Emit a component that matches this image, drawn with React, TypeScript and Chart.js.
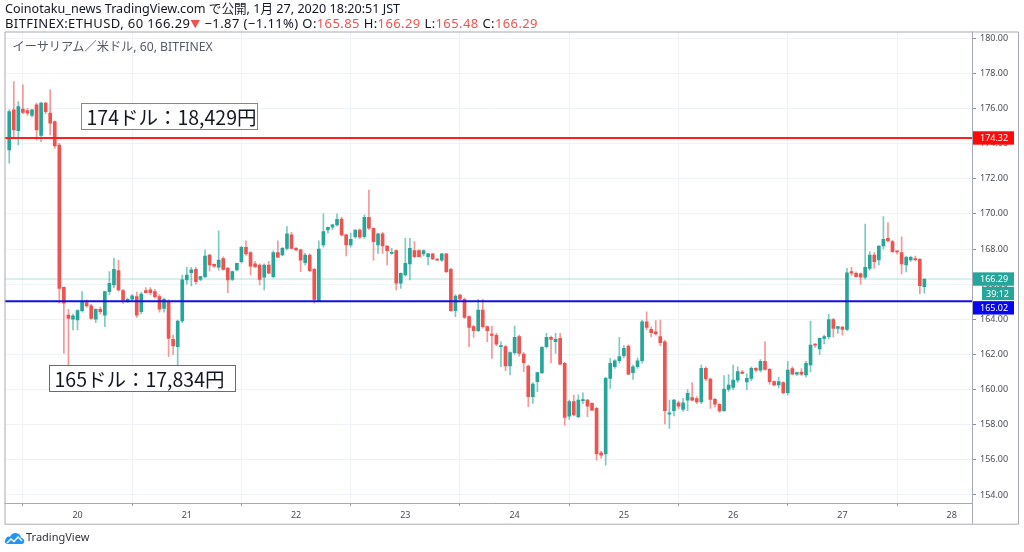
import React, { useEffect, useRef } from "react";
import { Chart, registerables } from "chart.js";

Chart.register(...registerables);

// Hourly candles, hour 0 = 2020-01-20 00:00 JST
const FIRST_HOUR = -15;
const opens = [
  173.64, 175.92, 174.74, 175.97, 175.88, 175.60, 176.20, 174.46, 176.30, 175.73, 175.25, 173.92, 165.82, 164.24, 164.00,
  163.96, 164.49, 164.95, 164.76, 164.00, 164.57, 164.24, 165.57, 165.95, 166.77, 165.63, 165.04, 165.14, 165.29, 164.43, 165.63, 165.67, 165.57, 165.29, 164.62, 165.00, 162.86, 162.44,
  163.90, 166.24, 166.65, 166.84, 166.27, 166.43, 167.66, 167.13, 166.96, 167.45, 166.90, 166.27, 166.81, 167.28, 168.10, 167.79, 167.15, 167.09, 166.39, 167.09, 166.43, 167.79, 167.66, 168.04,
  168.80, 168.04, 167.95, 167.22, 167.66, 166.84, 165.06, 168.23, 169.08, 169.24, 169.37, 169.71, 168.80, 168.23, 168.70, 169.08, 168.70, 169.80, 169.18, 168.23, 168.86, 168.17, 167.75, 167.91,
  166.05, 166.52, 167.15, 167.91, 167.91, 167.72, 167.57, 167.72, 167.43, 167.37, 167.72, 166.84, 164.49, 165.38, 165.14, 164.15, 163.58, 163.35, 164.53, 163.58, 163.16, 163.08, 162.44, 162.44,
  161.34, 162.10, 163.01, 162.02, 161.34, 159.59, 160.45, 160.96, 162.44, 162.97, 162.72, 162.91, 161.49, 158.49, 159.31, 158.45, 159.37, 159.40, 159.21, 158.93, 156.40, 156.33, 160.64, 161.30,
  161.64, 161.93, 162.48, 160.96, 161.30, 161.64, 163.86, 163.43, 163.29, 163.01, 162.72, 158.60, 158.80, 159.25, 158.87, 159.40, 159.55, 159.48, 159.29, 161.21, 160.60, 159.44, 159.16, 158.80,
  160.01, 160.12, 160.54, 161.00, 160.43, 160.64, 161.21, 161.11, 161.60, 161.15, 160.45, 160.26, 160.39, 159.82, 161.19, 160.88, 161.00, 160.83, 161.40, 162.59, 162.31, 162.91, 163.01, 163.99,
  163.48, 163.56, 163.42, 166.71, 166.62, 166.58, 166.39, 166.90, 167.66, 167.38, 168.17, 168.61, 168.42, 167.89, 167.79, 167.09, 167.38, 167.45, 167.41, 165.85,
];
const highs = [
  175.92, 177.53, 176.39, 177.34, 176.00, 175.95, 176.30, 176.35, 176.35, 177.06, 175.30, 174.02, 165.85, 164.57, 164.30,
  164.55, 165.57, 165.10, 164.85, 164.60, 164.70, 165.60, 166.71, 167.47, 167.37, 165.70, 165.20, 165.40, 165.55, 165.55, 165.80, 165.80, 165.70, 165.40, 165.20, 165.10, 163.10, 163.96,
  166.52, 166.96, 166.95, 166.95, 166.45, 167.95, 167.70, 167.15, 169.03, 167.55, 166.95, 166.75, 167.20, 168.15, 168.46, 167.85, 167.30, 167.15, 167.15, 167.30, 167.90, 168.46, 168.10, 169.27,
  168.95, 168.10, 168.00, 167.75, 167.72, 166.90, 168.46, 170.00, 169.25, 169.40, 170.00, 169.80, 168.85, 168.90, 169.10, 169.15, 169.94, 171.36, 169.20, 168.90, 168.95, 168.20, 168.04, 167.95,
  166.65, 168.61, 168.61, 168.42, 167.95, 167.95, 167.75, 167.75, 167.45, 167.75, 167.75, 166.90, 165.40, 165.42, 165.20, 164.20, 163.65, 165.14, 165.14, 163.62, 163.62, 163.20, 162.72, 162.50,
  162.15, 163.62, 163.10, 162.10, 161.40, 160.40, 161.00, 162.45, 163.20, 163.05, 163.20, 163.20, 161.55, 159.40, 159.69, 159.69, 159.82, 159.45, 159.25, 159.00, 156.50, 160.70, 161.78, 161.70,
  162.97, 162.50, 162.55, 161.40, 161.80, 163.96, 164.43, 163.55, 163.92, 163.96, 162.80, 159.40, 159.45, 159.35, 159.50, 160.00, 160.40, 159.60, 161.40, 161.30, 160.65, 159.50, 159.20, 160.80,
  160.85, 161.40, 161.30, 161.10, 160.90, 161.30, 161.25, 161.70, 162.72, 161.20, 160.50, 160.70, 160.45, 161.60, 161.30, 161.00, 161.20, 161.60, 163.90, 162.62, 162.95, 163.10, 164.28, 164.05,
  163.60, 163.60, 166.90, 166.96, 166.70, 166.65, 169.42, 167.85, 167.80, 168.20, 169.84, 169.50, 168.50, 167.90, 168.70, 167.60, 167.60, 167.60, 167.45, 166.29,
];
const lows = [
  172.88, 174.40, 173.92, 175.70, 175.60, 175.50, 174.21, 174.11, 175.70, 174.49, 173.73, 164.91, 162.06, 161.30, 163.39,
  163.39, 164.40, 164.70, 164.00, 163.80, 164.30, 163.58, 165.40, 165.80, 165.60, 164.90, 164.95, 165.00, 164.10, 164.30, 165.50, 165.40, 165.20, 164.40, 164.40, 161.87, 162.00, 161.40,
  163.80, 166.00, 165.90, 166.00, 166.20, 166.35, 166.75, 166.95, 166.80, 166.80, 165.52, 166.20, 166.75, 167.20, 167.65, 166.52, 166.95, 165.95, 165.67, 166.58, 166.35, 167.50, 167.60, 167.95,
  168.00, 167.90, 166.71, 167.10, 166.72, 164.91, 165.00, 168.10, 168.90, 169.10, 169.30, 168.75, 167.60, 168.10, 168.60, 168.60, 168.60, 169.10, 167.37, 167.75, 167.75, 167.09, 167.70, 165.67,
  165.76, 166.45, 166.24, 167.50, 167.55, 167.60, 167.09, 167.40, 167.35, 167.30, 166.65, 164.45, 164.15, 165.10, 164.05, 162.44, 162.97, 163.30, 163.50, 162.72, 161.77, 162.50, 161.30, 161.07,
  160.83, 162.00, 161.90, 161.02, 159.02, 159.21, 159.88, 160.90, 162.35, 161.53, 162.06, 161.40, 157.98, 158.30, 158.50, 158.40, 159.20, 158.45, 158.80, 155.98, 156.10, 155.70, 160.07, 161.20,
  161.50, 161.80, 160.85, 160.58, 161.20, 161.50, 163.40, 163.00, 163.10, 162.50, 158.04, 157.79, 158.50, 158.90, 158.75, 158.80, 159.35, 159.20, 159.20, 160.50, 158.93, 159.00, 158.70, 158.75,
  159.90, 160.00, 160.40, 160.90, 160.00, 160.50, 161.00, 161.00, 161.10, 160.30, 160.20, 160.10, 159.75, 159.70, 160.85, 160.80, 160.80, 160.70, 161.00, 162.40, 162.00, 162.60, 162.90, 163.00,
  163.20, 163.10, 163.35, 166.50, 166.40, 166.00, 166.30, 166.80, 166.90, 167.10, 168.00, 168.40, 167.80, 167.70, 166.58, 166.70, 167.30, 167.35, 165.44, 165.48,
];
const closes = [
  175.82, 174.78, 176.11, 175.78, 175.73, 175.92, 174.78, 176.30, 175.82, 175.16, 173.87, 165.76, 164.91, 164.05, 164.20,
  164.49, 165.00, 164.76, 164.05, 164.57, 164.43, 165.57, 166.05, 166.84, 165.67, 165.10, 165.14, 165.33, 164.24, 165.44, 165.51, 165.51, 165.29, 164.57, 165.14, 162.91, 162.48, 163.90,
  166.24, 166.52, 166.81, 166.14, 166.43, 167.60, 167.09, 167.03, 167.37, 166.84, 166.24, 166.71, 167.19, 168.10, 167.72, 167.03, 166.99, 166.27, 167.09, 166.62, 167.79, 167.53, 168.04, 168.86,
  168.04, 167.95, 167.37, 167.66, 166.77, 165.13, 168.00, 168.99, 169.24, 169.37, 169.69, 168.80, 168.23, 168.55, 169.08, 168.67, 169.80, 169.18, 168.42, 168.86, 168.17, 167.91, 167.79, 166.05,
  166.62, 167.19, 168.04, 167.57, 167.57, 167.91, 167.72, 167.43, 167.37, 167.72, 166.71, 164.49, 165.32, 165.14, 164.11, 163.54, 163.35, 164.53, 163.58, 163.35, 163.08, 162.59, 162.48, 161.34,
  162.10, 162.97, 162.06, 161.53, 159.59, 160.31, 160.96, 162.40, 162.97, 162.86, 162.86, 161.45, 158.42, 159.31, 158.55, 159.40, 159.40, 159.06, 158.83, 156.33, 156.27, 160.64, 161.49, 161.64,
  161.87, 162.34, 160.88, 161.30, 161.64, 163.86, 163.54, 163.24, 163.16, 162.67, 158.80, 158.68, 159.40, 159.06, 159.25, 159.78, 159.40, 159.29, 161.21, 160.60, 159.44, 159.17, 158.78, 160.03,
  160.26, 160.54, 161.02, 160.92, 160.64, 161.21, 161.11, 161.60, 161.15, 160.45, 160.26, 160.45, 159.82, 161.11, 160.88, 160.96, 160.88, 161.49, 162.53, 162.53, 162.91, 163.01, 163.99, 163.48,
  163.58, 163.42, 166.65, 166.62, 166.43, 166.39, 166.96, 167.66, 167.28, 168.17, 168.55, 168.48, 167.85, 167.83, 167.15, 167.53, 167.53, 167.38, 165.91, 166.29,
];

const dayTicks = [0, 24, 48, 72, 96, 120, 144, 168, 192];
const dayLabels = ["20", "21", "22", "23", "24", "25", "26", "27", "28"];
const priceTicks = [154, 156, 158, 160, 162, 164, 166, 168, 170, 172, 174, 176, 178, 180];

const RESISTANCE = 174.32;
const SUPPORT = 165.02;
const LAST_PRICE = 166.29;
const COUNTDOWN = "39:12";

const X_MIN = -16.04;
const X_MAX = 196.46;
const Y_MIN = 153.56;
const Y_MAX = 180.38;

const UP = "#26a69a";
const DOWN = "#ef5350";
const UP_WICK = "rgba(38,166,154,0.6)";
const DOWN_WICK = "rgba(239,83,80,0.6)";
const RED_LINE = "#ff1f1f";
const BLUE_LINE = "#1010e6";
const FRAME = "#a7aab2";
const GRID = "#eff2f7";
const TICK_TEXT = "#4a4d57";
const FONT = "'Noto Sans', 'Noto Sans CJK JP', sans-serif";

const framePlugin = {
  id: "frame",
  afterDraw(chart: any) {
    const { ctx, chartArea: a, scales } = chart;
    const y = scales.y;
    const right = a.right + 46;
    const bottom = a.bottom + 21;
    ctx.save();
    ctx.strokeStyle = FRAME;
    ctx.lineWidth = 1;
    ctx.beginPath();
    ctx.moveTo(a.left + 0.5, a.top + 0.5);
    ctx.lineTo(right + 0.5, a.top + 0.5);
    ctx.lineTo(right + 0.5, bottom + 0.5);
    ctx.lineTo(a.left + 0.5, bottom + 0.5);
    ctx.closePath();
    ctx.moveTo(Math.round(a.right) + 0.5, a.top);
    ctx.lineTo(Math.round(a.right) + 0.5, bottom);
    ctx.moveTo(a.left, Math.round(a.bottom) + 0.5);
    ctx.lineTo(a.right, Math.round(a.bottom) + 0.5);
    ctx.stroke();

    const tagX = Math.round(a.right) + 1;
    const tagW = 41;
    const tagH = 13.4;
    const tag = (text: string, yc: number, bg: string, x0 = tagX, w = tagW, tx = tagX + 7) => {
      ctx.fillStyle = bg;
      ctx.fillRect(x0, yc - tagH / 2, w, tagH);
      ctx.fillStyle = "#ffffff";
      ctx.font = `9px ${FONT}`;
      ctx.textAlign = "left";
      ctx.textBaseline = "middle";
      ctx.fillText(text, tx, yc + 0.5);
    };
    const fmt = (v: number) => v.toFixed(2);
    tag(fmt(RESISTANCE), y.getPixelForValue(RESISTANCE), "#ff0a0a");
    const yl = y.getPixelForValue(LAST_PRICE);
    tag(fmt(LAST_PRICE), yl, UP);
    tag(COUNTDOWN, yl + tagH + 1, UP, tagX + 9, tagW - 9, tagX + 13);
    tag(fmt(SUPPORT), yl + 2 * (tagH + 1), "#0606f0");
    ctx.restore();
  },
};

export default function App() {
  const ref = useRef<HTMLCanvasElement | null>(null);

  useEffect(() => {
    if (!ref.current) return;
    const hours = opens.map((_, i) => FIRST_HOUR + i);
    const isUp = opens.map((o, i) => closes[i] >= o);
    const hline = (v: number) => [
      { x: X_MIN, y: v },
      { x: X_MAX, y: v },
    ];
    const chart = new Chart(ref.current, {
      type: "bar",
      data: {
        datasets: [
          {
            type: "line",
            data: hline(RESISTANCE),
            borderColor: RED_LINE,
            borderWidth: 2,
            pointRadius: 0,
          } as any,
          {
            type: "line",
            data: hline(SUPPORT),
            borderColor: BLUE_LINE,
            borderWidth: 2,
            pointRadius: 0,
          } as any,
          {
            type: "bar",
            data: hours.map((h, i) => ({ x: h, y: [opens[i], closes[i]] })),
            backgroundColor: isUp.map((u) => (u ? UP : DOWN)),
            barThickness: 3,
            minBarLength: 1,
            grouped: false,
            borderWidth: 0,
          } as any,
          {
            type: "bar",
            data: hours.map((h, i) => ({ x: h, y: [lows[i], highs[i]] })),
            backgroundColor: isUp.map((u) => (u ? UP_WICK : DOWN_WICK)),
            barThickness: 1,
            grouped: false,
            borderWidth: 0,
          } as any,
          {
            type: "line",
            data: hline(LAST_PRICE),
            borderColor: "rgba(38,166,154,0.35)",
            borderWidth: 1,
            pointRadius: 0,
          } as any,
        ],
      },
      options: {
        animation: false,
        responsive: false,
        maintainAspectRatio: false,
        layout: { padding: { left: 4.5, top: 31.5, right: 6, bottom: 28.3 } },
        plugins: { legend: { display: false }, tooltip: { enabled: false } },
        scales: {
          x: {
            type: "linear",
            min: X_MIN,
            max: X_MAX,
            offset: false,
            afterFit: (s: any) => {
              s.height = 21;
            },
            afterBuildTicks: (s: any) => {
              s.ticks = dayTicks.map((v) => ({ value: v }));
            },
            ticks: {
              autoSkip: false,
              maxRotation: 0,
              padding: 4,
              color: TICK_TEXT,
              font: { family: FONT, size: 9 },
              callback: (v: any) => dayLabels[dayTicks.indexOf(Number(v))] ?? "",
            },
            grid: { color: GRID, tickColor: "#8a8d96", tickLength: 3 },
            border: { display: false },
          },
          y: {
            type: "linear",
            position: "right",
            min: Y_MIN,
            max: Y_MAX,
            afterFit: (s: any) => {
              s.width = 46;
            },
            afterBuildTicks: (s: any) => {
              s.ticks = priceTicks.map((v) => ({ value: v }));
            },
            ticks: {
              autoSkip: false,
              padding: 4,
              color: TICK_TEXT,
              font: { family: FONT, size: 9 },
              callback: (v: any) => Number(v).toFixed(2),
            },
            grid: { color: GRID, tickColor: "#8a8d96", tickLength: 4 },
            border: { display: false },
          },
        },
      } as any,
      plugins: [framePlugin],
    });
    return () => chart.destroy();
  }, []);

  const text: React.CSSProperties = {
    position: "absolute",
    whiteSpace: "nowrap",
    fontFamily: FONT,
    color: "#131722",
  };
  const red = { color: "#ef5350" };

  return (
    <div style={{ position: "absolute", left: 0, top: 0, width: 1024, height: 552, background: "#ffffff", overflow: "hidden" }}>
      <canvas ref={ref} width={1024} height={552} style={{ position: "absolute", left: 0, top: 0, width: 1024, height: 552 }} />
      <div style={{ ...text, left: 5, top: 2, fontSize: 12.6, lineHeight: "14px" }}>
        Coinotaku_news TradingView.com で公開, 1月 27, 2020 18:20:51 JST
      </div>
      <div style={{ ...text, left: 5, top: 15.5, fontSize: 13, lineHeight: "14px", letterSpacing: "0.4px" }}>
        BITFINEX:ETHUSD, 60 166.29<span style={{ ...red, fontSize: 10 }}>▼</span> −1.87 (−1.11%) O:<span style={red}>165.85</span> H:
        <span style={red}>166.29</span> L:<span style={red}>165.48</span> C:<span style={red}>166.29</span>
      </div>
      <div style={{ ...text, left: 12.5, top: 40, fontSize: 12.2, lineHeight: "14px", color: "#555a66" }}>
        イーサリアム／米ドル, 60, BITFINEX
      </div>
      <div
        style={{
          ...text,
          left: 80.5,
          top: 103,
          width: 177,
          height: 27,
          boxSizing: "border-box",
          border: "1px solid #f25a5a",
          background: "#ffffff",
          fontSize: 19.5,
          lineHeight: "25px",
          paddingLeft: 5,
          fontFamily: "'Noto Sans CJK JP', sans-serif",
        }}
      >
        174ドル：18,429円
      </div>
      <div
        style={{
          ...text,
          left: 48.5,
          top: 365,
          width: 187,
          height: 27,
          boxSizing: "border-box",
          border: "1px solid #5a5af2",
          background: "#ffffff",
          fontSize: 19.5,
          lineHeight: "25px",
          paddingLeft: 5,
          fontFamily: "'Noto Sans CJK JP', sans-serif",
        }}
      >
        165ドル：17,834円
      </div>
      <div style={{ position: "absolute", left: 4, top: 531 }}>
        <svg width="21" height="13" viewBox="0 0 21 13">
          <path d="M4 12 C1 12 0 9.5 1.5 7.5 C2 5 4.5 4 6 5 C7 1.5 11 0 14 1.5 C16 2.5 17 4.5 16.8 6 C19.5 6 21 8.5 20 10.5 C19.5 11.6 18.5 12 17.5 12 Z" fill="#2196f3" />
          <path d="M3 11 L7 7 L10 9.5 L14 5 L18 9" stroke="#ffffff" strokeWidth="1.4" fill="none" />
        </svg>
      </div>
      <div style={{ ...text, left: 26, top: 530, fontSize: 11, lineHeight: "14px", color: "#2f323c" }}>TradingView</div>
    </div>
  );
}
